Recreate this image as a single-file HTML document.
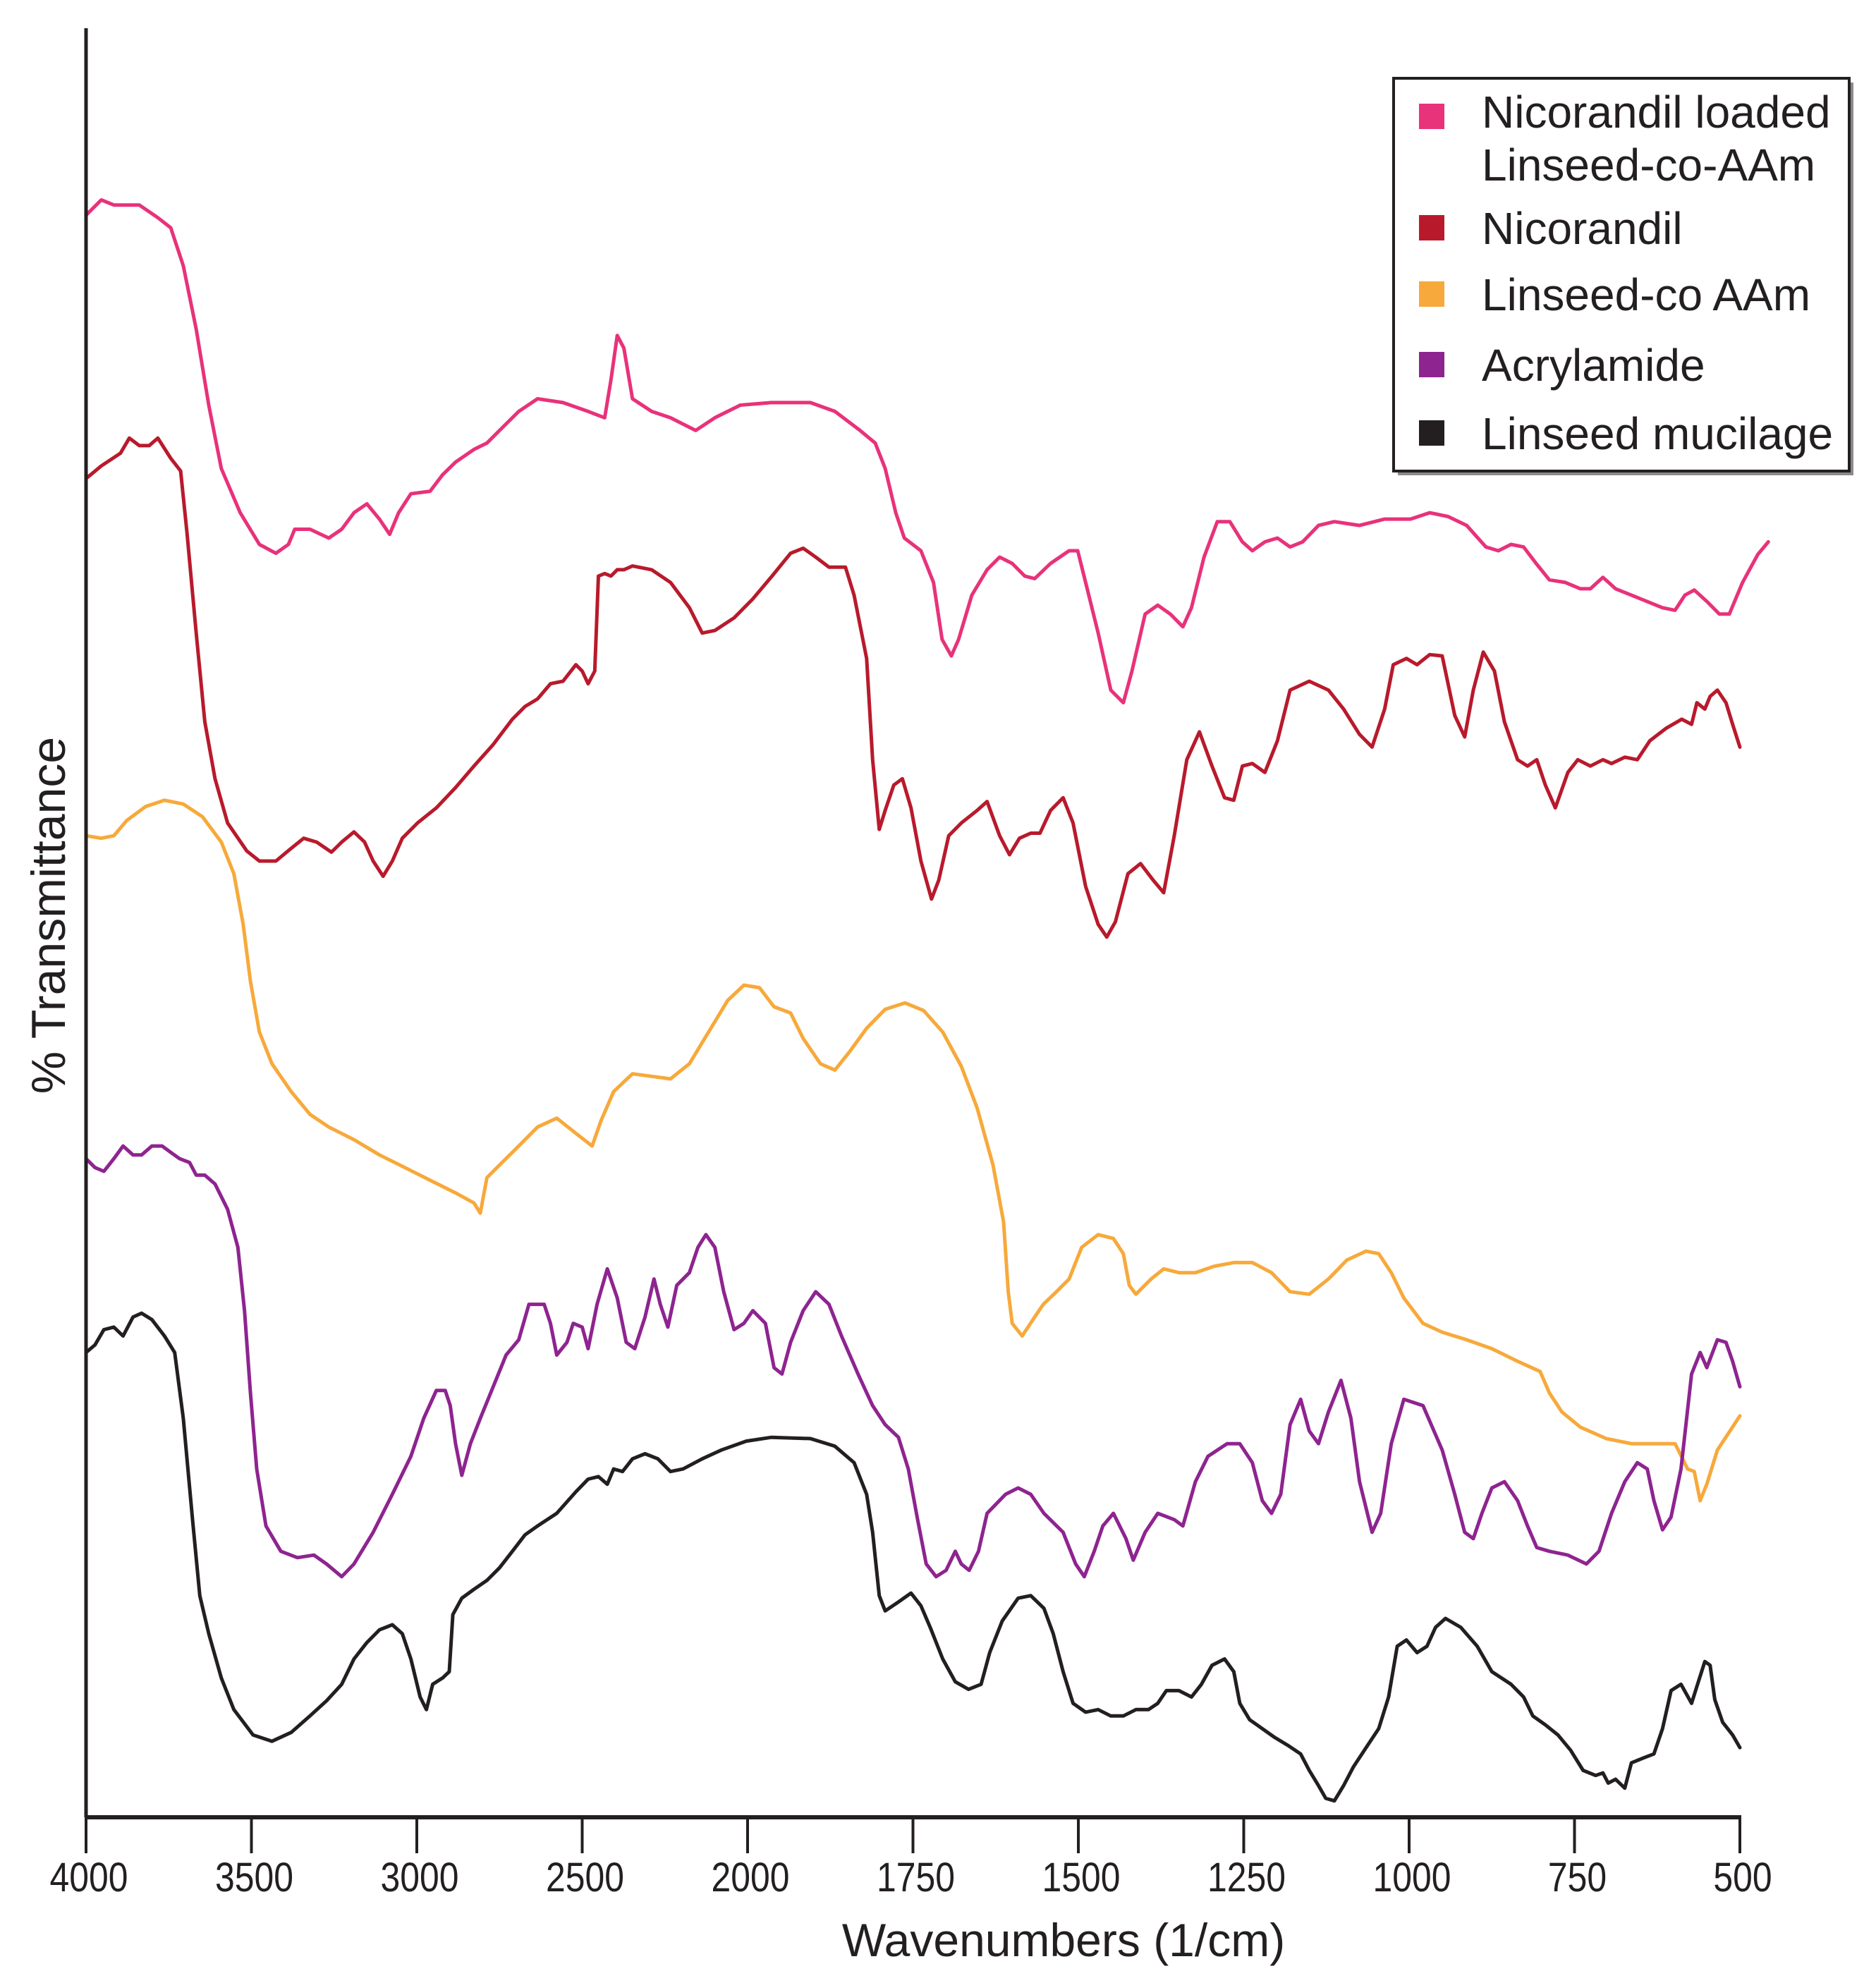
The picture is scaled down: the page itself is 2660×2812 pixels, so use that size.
<!DOCTYPE html>
<html><head><meta charset="utf-8"><style>
html,body{margin:0;padding:0;background:#fff;}
svg{display:block;}
text{font-family:"Liberation Sans",sans-serif;}
</style></head><body>
<svg id="chart" width="2660" height="2812" viewBox="0 0 2660 2812" xmlns="http://www.w3.org/2000/svg">
<g id="plot"></g>
<g id="axes"></g>
<text x="0" y="0" transform="translate(92,1298) rotate(-90)" text-anchor="middle" font-size="68" fill="#231f20">% Transmittance</text>
<text x="1508" y="2774" text-anchor="middle" font-size="66" fill="#231f20">Wavenumbers (1/cm)</text>
<g id="legend">
<rect x="1982" y="117" width="646" height="557" fill="#8a8a8a"/>
<rect x="1976" y="111" width="646" height="557" fill="#fff" stroke="#231f20" stroke-width="4"/>
</g>
</svg>
<script>
const ticks = [4000,3500,3000,2500,2000,1750,1500,1250,1000,750,500];
const seriesNames = ["Nicorandil loaded Linseed-co-AAm","Nicorandil","Linseed-co AAm","Acrylamide","Linseed mucilage"];
const seriesColors = ["#e8327a","#b81a2c","#f7a93b","#8e2490","#231f20"];

const pinkX = [4000,3954,3916,3839,3783,3744,3706,3667,3629,3591,3534,3476,3426,3388,3369,3323,3266,3227,3190,3151,3113,3082,3055,3018,2960,2922,2883,2827,2788,2750,2692,2635,2558,2482,2432,2413,2394,2374,2348,2290,2233,2157,2099,2022,1964,1905,1868,1830,1807,1792,1776,1763,1738,1719,1706,1692,1681,1661,1638,1619,1600,1581,1566,1542,1514,1501,1489,1470,1451,1432,1419,1399,1380,1361,1342,1329,1310,1290,1271,1252,1237,1218,1199,1180,1161,1137,1113,1075,1037,998,969,941,913,884,865,846,827,808,788,764,741,726,707,688,664,636,617,598,583,569,550,531,516,496,473,457];
const pinkY = [1265,1277,1273,1273,1263,1255,1225,1175,1115,1065,1030,1005,998,1005,1017,1017,1010,1017,1030,1037,1025,1013,1030,1045,1047,1060,1070,1080,1085,1095,1110,1120,1117,1110,1105,1135,1170,1160,1120,1110,1105,1095,1105,1115,1117,1117,1110,1095,1085,1065,1030,1010,1000,975,930,917,930,965,985,995,990,980,978,990,1000,1000,975,935,890,880,905,950,957,950,940,955,995,1023,1023,1007,1000,1007,1010,1003,1007,1020,1023,1020,1025,1025,1030,1027,1020,1003,1000,1005,1003,990,977,975,970,970,979,970,965,959,955,953,965,969,960,950,950,975,997,1007];

const redX = [4000,3954,3896,3869,3839,3809,3783,3744,3714,3695,3667,3641,3610,3572,3514,3476,3426,3380,3342,3303,3258,3227,3190,3158,3132,3102,3074,3044,2998,2941,2883,2827,2769,2711,2673,2635,2596,2558,2519,2500,2482,2462,2451,2432,2413,2394,2374,2348,2290,2233,2176,2137,2099,2041,1992,1963,1935,1916,1897,1877,1852,1839,1820,1811,1801,1792,1779,1766,1753,1738,1722,1711,1696,1677,1653,1638,1619,1604,1589,1572,1558,1542,1523,1508,1489,1470,1457,1444,1425,1406,1387,1371,1355,1336,1317,1298,1279,1265,1252,1237,1218,1199,1180,1151,1122,1099,1075,1056,1037,1024,1004,988,969,950,931,916,903,888,871,856,836,821,807,794,779,760,745,726,707,694,674,655,636,611,588,573,565,553,545,534,521,511,500];
const redY = [1057,1067,1077,1089,1083,1083,1089,1073,1063,1015,935,865,820,785,763,755,755,765,773,770,762,770,778,770,755,743,755,773,785,797,813,830,847,867,877,883,895,897,910,905,895,905,980,982,980,985,985,988,985,975,955,935,937,947,962,980,998,1002,995,987,987,965,915,835,780,795,815,820,797,755,725,740,775,785,795,802,775,760,773,777,777,795,805,785,735,705,695,707,745,753,740,730,775,835,857,830,805,803,830,832,825,850,890,897,890,875,855,845,875,910,915,910,918,917,870,853,890,920,905,865,835,830,835,815,797,825,835,830,835,832,837,835,850,860,867,863,880,875,885,890,880,863,845];

const orangeX = [4000,3954,3916,3877,3820,3763,3706,3648,3591,3553,3525,3503,3476,3438,3380,3323,3266,3190,3113,3036,2960,2883,2827,2808,2788,2750,2692,2635,2577,2519,2470,2443,2405,2348,2290,2233,2176,2118,2060,2011,1982,1960,1935,1916,1890,1868,1845,1820,1792,1762,1734,1705,1677,1653,1629,1613,1606,1600,1585,1566,1553,1533,1514,1495,1470,1447,1432,1423,1413,1390,1371,1348,1323,1295,1265,1237,1208,1180,1151,1122,1094,1065,1046,1027,1008,979,950,913,875,836,802,788,769,741,702,664,626,598,579,569,560,550,534,515,500];
const orangeY = [775,773,775,787,798,803,800,790,770,745,705,660,620,595,573,555,545,535,523,513,503,493,485,477,505,515,530,545,552,540,530,550,573,587,585,583,595,620,645,657,655,640,635,615,595,590,605,623,638,643,637,620,593,560,515,470,415,390,380,395,405,415,425,450,460,457,445,420,413,425,433,430,430,435,438,438,430,415,413,425,440,447,445,430,410,390,383,377,370,360,352,335,320,308,299,295,295,295,275,273,250,263,290,305,317];

const purpleX = [4000,3973,3946,3916,3888,3858,3832,3801,3770,3744,3717,3687,3667,3641,3610,3572,3541,3521,3503,3484,3456,3411,3361,3311,3273,3227,3190,3132,3074,3018,2979,2941,2914,2899,2883,2864,2838,2808,2769,2730,2692,2661,2615,2596,2577,2546,2527,2500,2482,2455,2424,2394,2367,2341,2310,2283,2264,2241,2214,2176,2150,2126,2099,2072,2041,2011,1992,1973,1960,1948,1935,1916,1897,1877,1858,1833,1811,1792,1772,1757,1743,1730,1715,1700,1686,1677,1665,1651,1638,1610,1591,1572,1552,1523,1504,1491,1476,1463,1447,1428,1417,1399,1380,1355,1342,1323,1304,1275,1256,1237,1222,1208,1194,1180,1164,1151,1137,1122,1103,1088,1075,1056,1043,1027,1008,979,950,931,916,903,890,875,856,836,821,807,788,760,732,713,694,674,655,640,630,617,604,589,573,560,550,534,521,511,500];
const purpleY = [520,513,510,520,530,523,523,530,530,525,520,517,507,507,500,480,450,400,335,275,230,210,205,207,200,190,200,225,255,285,315,337,337,325,295,270,295,315,340,365,377,405,405,390,365,375,390,387,370,405,433,410,375,370,395,425,405,387,420,430,450,460,450,415,385,390,400,390,355,350,375,400,415,405,380,350,325,310,300,275,235,200,190,195,210,200,195,210,240,255,260,255,240,225,200,190,210,230,240,220,203,225,240,235,230,265,285,295,295,280,250,240,255,310,330,305,295,320,345,315,265,225,240,295,330,325,290,255,225,220,240,260,265,250,230,213,210,207,200,210,240,265,280,275,250,227,237,275,350,367,355,377,375,360,340];

const blackX = [4000,3973,3946,3916,3888,3858,3832,3801,3763,3732,3706,3678,3656,3629,3591,3553,3495,3438,3380,3323,3273,3227,3190,3151,3113,3074,3044,3018,2990,2971,2952,2922,2902,2891,2864,2827,2788,2750,2711,2673,2635,2577,2519,2482,2451,2424,2405,2378,2348,2310,2271,2233,2195,2137,2079,2004,1964,1905,1868,1839,1820,1811,1801,1792,1772,1753,1738,1724,1705,1686,1666,1647,1634,1615,1591,1572,1552,1538,1523,1508,1489,1470,1451,1432,1413,1394,1380,1367,1348,1329,1314,1298,1279,1265,1256,1241,1222,1203,1184,1164,1151,1137,1126,1113,1099,1084,1065,1046,1031,1018,1004,988,973,960,945,922,897,875,846,827,813,794,775,756,737,718,707,699,688,674,664,645,630,617,604,589,573,564,553,545,538,526,511,500];
const blackY = [367,373,385,387,380,395,398,393,380,367,315,235,175,145,110,85,65,60,67,80,92,105,125,138,148,152,145,125,95,85,105,110,115,160,173,180,187,197,210,223,230,240,257,267,269,263,275,273,283,287,283,273,275,283,290,297,300,299,293,280,255,225,175,163,170,177,167,150,125,107,101,105,130,155,173,175,165,145,115,90,83,85,80,80,85,85,90,100,100,95,105,120,125,115,90,77,70,63,57,50,37,25,15,13,25,40,55,70,95,135,140,130,135,150,157,150,135,115,105,95,80,73,65,53,37,33,35,27,30,23,43,47,50,70,100,105,90,105,123,120,93,75,65,55];

const NS = "http://www.w3.org/2000/svg";
const X0 = 122, XMID = 1060, X1 = 2467, YTOP = 40, YB = 2577, KY = 1.796;
function xScale(w){ return w >= 2000 ? X0 + (4000 - w) * (XMID - X0) / 2000 : XMID + (2000 - w) * (X1 - XMID) / 1500; }
function yScale(v){ return YB - v * KY; }

const plot = document.getElementById('plot');
const xs = [pinkX, redX, orangeX, purpleX, blackX];
const ys = [pinkY, redY, orangeY, purpleY, blackY];
const keys = ['nicorandil-loaded-line','nicorandil-line','linseed-co-aam-line','acrylamide-line','linseed-mucilage-line'];
for (let s = 0; s < xs.length; s++) {
  const n = Math.min(xs[s].length, ys[s].length);
  const pts = [];
  for (let i = 0; i < n; i++) pts.push(xScale(xs[s][i]).toFixed(1) + ',' + yScale(ys[s][i]).toFixed(1));
  const p = document.createElementNS(NS, 'polyline');
  p.setAttribute('points', pts.join(' '));
  p.setAttribute('fill', 'none');
  p.setAttribute('stroke', seriesColors[s]);
  p.setAttribute('stroke-width', '5');
  p.setAttribute('stroke-linejoin', 'round');
  p.setAttribute('stroke-linecap', 'round');
  
  
  plot.appendChild(p);
}

const axes = document.getElementById('axes');
const yl = document.createElementNS(NS, 'line');
yl.setAttribute('x1', X0); yl.setAttribute('x2', X0); yl.setAttribute('y1', YTOP); yl.setAttribute('y2', YB);
yl.setAttribute('stroke', '#231f20'); yl.setAttribute('stroke-width', '5');


axes.appendChild(yl);
const xl = document.createElementNS(NS, 'line');
xl.setAttribute('x1', X0 - 2); xl.setAttribute('x2', X1 + 2); xl.setAttribute('y1', YB); xl.setAttribute('y2', YB);
xl.setAttribute('stroke', '#231f20'); xl.setAttribute('stroke-width', '6');


axes.appendChild(xl);
ticks.forEach(t => {
  const x = xScale(t);
  const tl = document.createElementNS(NS, 'line');
  tl.setAttribute('x1', x); tl.setAttribute('x2', x); tl.setAttribute('y1', YB); tl.setAttribute('y2', YB + 51);
  tl.setAttribute('stroke', '#231f20'); tl.setAttribute('stroke-width', '4');
  
  
  axes.appendChild(tl);
  const tx = document.createElementNS(NS, 'text');
  tx.setAttribute('x', 0); tx.setAttribute('y', 0);
  tx.setAttribute('transform', 'translate(' + (x + 4) + ',2682) scale(0.86,1)');
  tx.setAttribute('text-anchor', 'middle');
  tx.setAttribute('font-size', '58');
  tx.setAttribute('fill', '#231f20');
  tx.textContent = t;
  
  
  axes.appendChild(tx);
});

const legend = document.getElementById('legend');
const sqY = [165, 323, 417, 517, 614];
const lines = [["Nicorandil loaded","Linseed-co-AAm"],["Nicorandil"],["Linseed-co AAm"],["Acrylamide"],["Linseed mucilage"]];
const lineY = [[181, 256],[346],[440],[540],[637]];
for (let i = 0; i < 5; i++) {
  const r = document.createElementNS(NS, 'rect');
  r.setAttribute('x', 2012); r.setAttribute('y', sqY[i] - 18); r.setAttribute('width', 36); r.setAttribute('height', 36);
  r.setAttribute('fill', seriesColors[i]);
  
  
  legend.appendChild(r);
  lines[i].forEach((ln, j) => {
    const t = document.createElementNS(NS, 'text');
    t.setAttribute('x', 2101); t.setAttribute('y', lineY[i][j]);
    t.setAttribute('font-size', '64'); t.setAttribute('fill', '#231f20');
    t.textContent = ln;
    
    
    legend.appendChild(t);
  });
}
</script>
</body></html>
